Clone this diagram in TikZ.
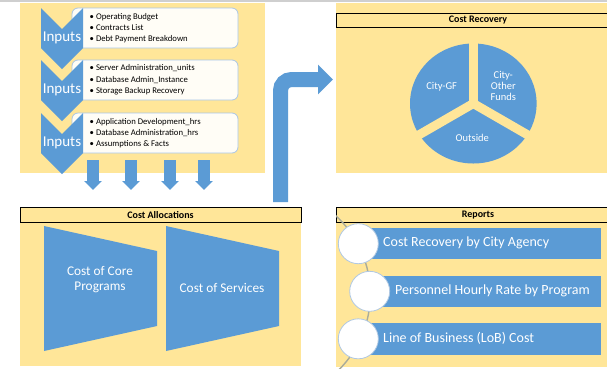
\documentclass[tikz,border=0pt]{standalone}
\usepackage{fontspec}
\setmainfont{Carlito}
\usetikzlibrary{arrows.meta,calc}
\definecolor{panelyellow}{HTML}{FFE699}
\definecolor{cblue}{HTML}{5B9BD5}
\definecolor{boxfill}{HTML}{FFFDF6}
\definecolor{boxborder}{HTML}{A9C6E6}
\definecolor{arcgray}{HTML}{A9AB9A}
\definecolor{circborder}{HTML}{B0C8E2}
\definecolor{topgray}{HTML}{CFCFCF}
\tikzset{
  panelfill/.style={fill=panelyellow},
  titlebar/.style={draw=black, line width=0.9pt, fill=panelyellow, inner sep=0pt,
    minimum height=14.5pt, font=\bfseries\fontsize{10}{12}\selectfont},
  inputbox/.style={draw=boxborder, fill=boxfill, rounded corners=6pt, line width=0.8pt},
  bullets/.style={align=left, font=\fontsize{8.7}{11.3}\selectfont, inner sep=0pt, anchor=west},
  chevfill/.style={fill=cblue},
  inlabel/.style={text=white, inner sep=0pt, font=\fontsize{15}{18}\selectfont},
  downarrow/.style={draw=cblue, line width=12pt, -{Triangle[length=9pt,width=17pt]}},
  bentarrow/.style={draw=cblue, line width=15pt, rounded corners=11pt, -{Triangle[length=15pt,width=29pt]}},
  pielabel/.style={text=white, align=center, inner sep=0pt, font=\fontsize{10.5}{11.2}\selectfont},
  trap/.style={fill=cblue},
  traplabel/.style={text=white, align=center, inner sep=0pt, font=\fontsize{13.3}{15}\selectfont},
  barfill/.style={fill=cblue},
  bartext/.style={text=white, anchor=west, inner sep=0pt, font=\fontsize{14}{16}\selectfont},
  repcircle/.style={circle, draw=circborder, fill=white, line width=0.8pt, minimum size=40pt, inner sep=0pt},
}
\begin{document}
\begin{tikzpicture}[x=1pt,y=-1pt]
\useasboundingbox (0,0) rectangle (607,368);
\fill[white] (0,0) rectangle (607,368);
\fill[topgray] (0,0) rectangle (607,2);

% panels
\fill[panelfill] (20,3) rectangle (265,173);
\fill[panelfill] (336,3) rectangle (607,173);
\fill[panelfill] (20,208) rectangle (301,366);
\fill[panelfill] (336,208) rectangle (607,367);

% ---------- Inputs ----------
\foreach \y/\n/\txt in {8/1/{\textbullet~Operating Budget\\\textbullet~Contracts List\\\textbullet~Debt Payment Breakdown},
                       60/2/{\textbullet~Server Administration\_units\\\textbullet~Database Admin\_Instance\\\textbullet~Storage Backup Recovery},
                       113/3/{\textbullet~Application Development\_hrs\\\textbullet~Database Administration\_hrs\\\textbullet~Assumptions \& Facts}}{
  \draw[inputbox] (72,\y) rectangle (238,\y+40);
  \node[bullets] (list\n) at (89.5,\y+20) {\txt};
  \fill[chevfill] (41,\y) -- (62,\y+21) -- (83,\y) -- (83,\y+40) -- (62,\y+61) -- (41,\y+40) -- cycle;
  \node[inlabel] (inputs\n) at (62,\y+30) {Inputs};
}

% down arrows
\foreach \x/\n in {93/1,131/2,170/3,204/4}{
  \coordinate (ds\n) at (\x,160);
  \coordinate (de\n) at (\x,190);
  \draw[downarrow] (ds\n) -- (de\n);
}

% bent arrow
\coordinate (bs) at (280.5,202);
\coordinate (bc) at (280.5,79.5);
\coordinate (be) at (333,79.5);
\draw[bentarrow] (bs) -- (bc) -- (be);

% ---------- Cost Recovery ----------
\node[titlebar, minimum width=284pt] (crtitle) at (478,20.5) {Cost Recovery};
\fill[cblue] (473.3,103.5) ellipse[x radius=63.3pt, y radius=60pt];
\foreach \a in {90,210,330}{
  \draw[panelyellow, line width=9pt] (473.3,103.5) -- ++(\a:72pt);
}
\node[pielabel] (gf) at (441.7,86.7) {City-GF};
\node[pielabel] (other) at (503.3,85.7) {City-\\Other\\Funds};
\node[pielabel] (outside) at (472.3,138.3) {Outside};

% ---------- Cost Allocations ----------
\node[titlebar, minimum width=281pt] (catitle) at (160.5,215) {Cost Allocations};
\fill[trap] (44,226) -- (157,251) -- (157,326) -- (44,351) -- cycle;
\fill[trap] (166,226) -- (279,251) -- (279,326) -- (166,351) -- cycle;
\node[traplabel] (core) at (100,280) {Cost of Core\\Programs};
\node[traplabel] (services) at (222,288) {Cost of Services};

% ---------- Reports ----------
\node[titlebar, minimum width=284pt] (reptitle) at (478,215) {Reports};
\begin{scope}
  \clip (336,210) rectangle (607,368);
  \draw[arcgray, line width=1.4pt] (263.7,294.2) circle[radius=106.6pt];
\end{scope}
\fill[barfill] (366,227.5) rectangle (601,259);
\fill[barfill] (378,275.5) rectangle (601,307);
\fill[barfill] (366,323) rectangle (601,354.5);
\node[bartext] (r1) at (383,243.3) {Cost Recovery by City Agency};
\node[bartext] (r2) at (395,291.2) {Personnel Hourly Rate by Program};
\node[bartext] (r3) at (383,338.8) {Line of Business (LoB) Cost};
\node[repcircle] (c1) at (358.3,243.7) {};
\node[repcircle] (c2) at (369.7,291.3) {};
\node[repcircle] (c3) at (358.3,338.8) {};
\end{tikzpicture}
\end{document}
